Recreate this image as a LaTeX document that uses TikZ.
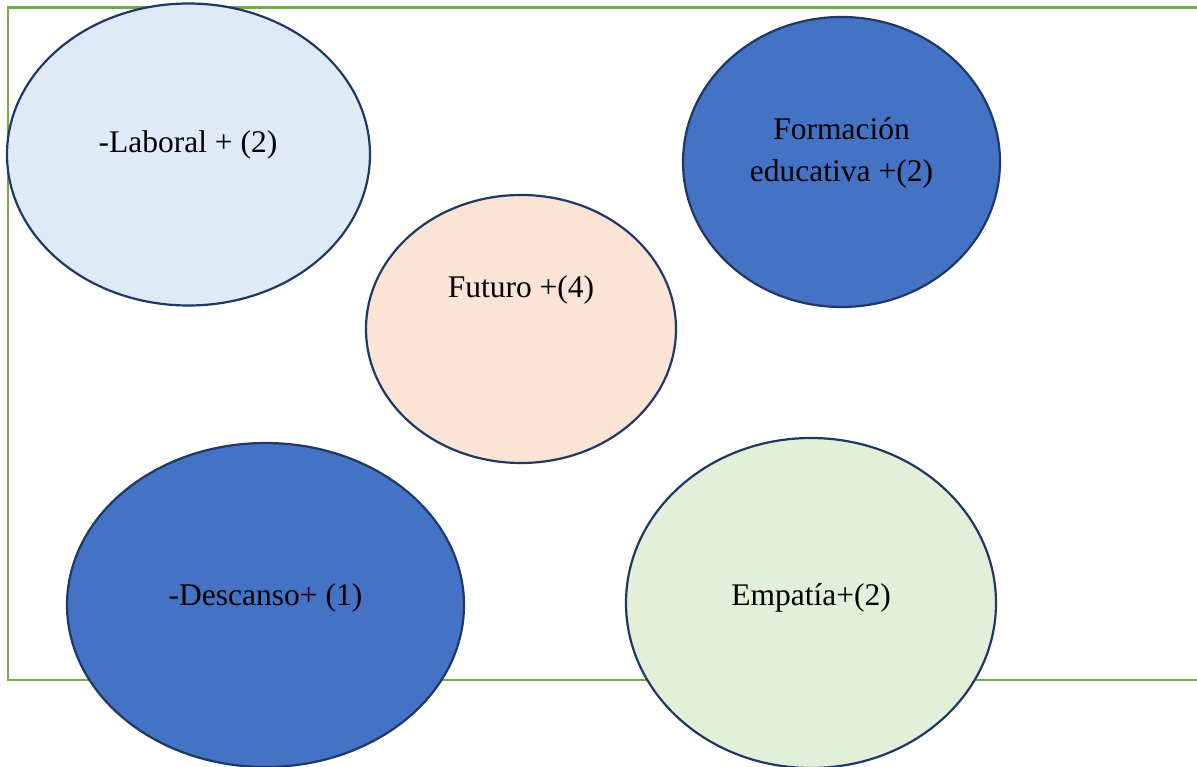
\documentclass[tikz,border=0pt]{standalone}
\usepackage{fontspec}
\setmainfont{Liberation Serif}
\usetikzlibrary{shapes.geometric}

\definecolor{frameGreen}{HTML}{70AD47}
\definecolor{rimNavy}{HTML}{203864}
\definecolor{paleBlue}{HTML}{DEEAF6}
\definecolor{midBlue}{HTML}{4472C4}
\definecolor{palePeach}{HTML}{FBE4D5}
\definecolor{paleGreen}{HTML}{E2EFD9}

\tikzset{
  bubble/.style={ellipse, draw=rimNavy, line width=2.2pt, inner sep=0pt},
  lbl/.style={anchor=base, inner sep=0pt, align=center,
              font=\fontsize{31.5}{42}\selectfont, text=black},
}

\begin{document}
\begin{tikzpicture}[x=1pt, y=-1pt]
  \useasboundingbox (0,0) rectangle (1197,767);

  % open green frame running off the right edge
  \draw[frameGreen, line width=2.6pt]
    (1205,7.5) -- (8,7.5) -- (8,680) -- (1205,680);

  % bubbles
  \node[bubble, fill=paleBlue,  minimum width=363pt, minimum height=302pt] (lab)  at (188.5,154.5) {};
  \node[bubble, fill=midBlue,   minimum width=317pt, minimum height=290pt] (form) at (841.5,162) {};
  \node[bubble, fill=palePeach, minimum width=310pt, minimum height=268pt] (fut)  at (521,329) {};
  \node[bubble, fill=midBlue,   minimum width=397pt, minimum height=324pt] (desc) at (265.5,605) {};
  \node[bubble, fill=paleGreen, minimum width=370pt, minimum height=330pt] (emp)  at (811,603) {};

  % labels (the two-line label sits on its last baseline)
  \node[lbl] (labT)  at (188,153)   {-Laboral + (2)};
  \node[lbl] (formT) at (841.5,182) {Formación\\educativa +(2)};
  \node[lbl] (futT)  at (521,298)   {Futuro +(4)};
  \node[lbl] (descT) at (265.5,605) {-Descanso+ (1)};
  \node[lbl] (empT)  at (811,605)   {Empatía+(2)};
\end{tikzpicture}
\end{document}
